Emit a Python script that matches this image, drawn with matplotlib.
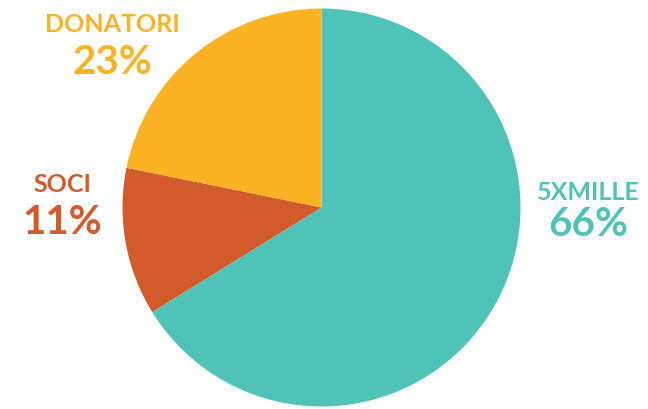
import matplotlib
matplotlib.use("Agg")
import matplotlib.pyplot as plt

categories = ["5XMILLE", "SOCI", "DONATORI"]
slice_values = [66.2, 12.0, 21.8]   # angular shares as drawn in the picture
label_values = [66, 11, 23]          # percentages printed on the labels
colors = ["#50C3B8", "#D35A2A", "#FBB324"]

W, H = 648, 409
fig = plt.figure(figsize=(W / 100, H / 100), dpi=100)
ax = fig.add_axes([0, 0, 1, 1])

cx, cy, r = 321.5, H - 207.5, 199
ax.pie(slice_values, colors=colors, startangle=90, counterclock=False,
       center=(cx, cy), radius=r, frame=True,
       wedgeprops=dict(linewidth=0))
ax.set_xlim(0, W)
ax.set_ylim(0, H)
ax.set_aspect("auto")
ax.axis("off")

label_pos = {"5XMILLE": (588, 192, 225), "SOCI": (62, 184, 222), "DONATORI": (112, 24, 62)}
for cat, val, col in zip(categories, label_values, colors):
    x, y1, y2 = label_pos[cat]
    ax.text(x, H - y1, cat, ha="center", va="center", color=col,
            fontsize=18, fontweight="bold", family="Lato")
    ax.text(x, H - y2, f"{val}%", ha="center", va="center", color=col,
            fontsize=29, fontweight="bold", family="Lato")

fig.savefig("out.png", dpi=100)
